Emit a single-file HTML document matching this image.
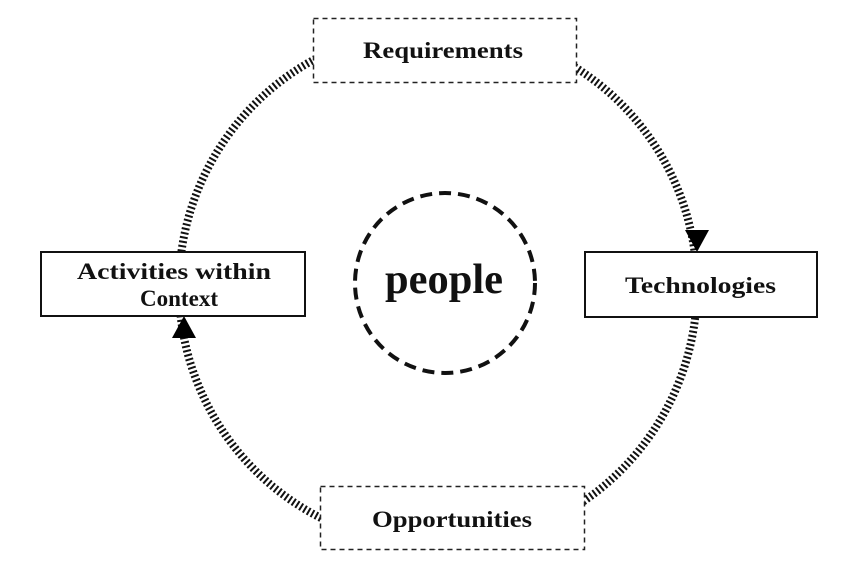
<!DOCTYPE html>
<html><head><style>body{margin:0;background:#fff}svg{display:block}text{font-family:"Liberation Serif",serif;font-weight:bold;fill:#111}</style></head>
<body>
<svg width="850" height="563" viewBox="0 0 850 563">
<circle cx="438" cy="287" r="259" fill="none" stroke="#111" stroke-width="8" stroke-dasharray="2 2.4"/>
<polygon points="685,230 709,230 697,252" fill="#000"/>
<polygon points="172,338 196,338 184,316" fill="#000"/>
<rect x="313.5" y="18.5" width="263" height="64" fill="#fff" stroke="#222" stroke-width="1.5" stroke-dasharray="5 4"/>
<text x="363" y="58" font-size="23" textLength="160" lengthAdjust="spacingAndGlyphs">Requirements</text>
<rect x="320.5" y="486.5" width="264" height="63" fill="#fff" stroke="#222" stroke-width="1.5" stroke-dasharray="5 4"/>
<text x="372" y="527" font-size="23" textLength="160" lengthAdjust="spacingAndGlyphs">Opportunities</text>
<rect x="585" y="252" width="232" height="65" fill="#fff" stroke="#111" stroke-width="2"/>
<text x="625" y="293" font-size="23" textLength="151" lengthAdjust="spacingAndGlyphs">Technologies</text>
<rect x="41" y="252" width="264" height="64" fill="#fff" stroke="#111" stroke-width="2"/>
<text x="77" y="279" font-size="23" textLength="194" lengthAdjust="spacingAndGlyphs">Activities within</text>
<text x="140" y="306" font-size="23" textLength="78" lengthAdjust="spacingAndGlyphs">Context</text>
<circle cx="445" cy="283" r="90" fill="none" stroke="#111" stroke-width="4" stroke-dasharray="12 7"/>
<text x="385" y="293" font-size="42" textLength="118" lengthAdjust="spacingAndGlyphs">people</text>
</svg>
</body></html>
